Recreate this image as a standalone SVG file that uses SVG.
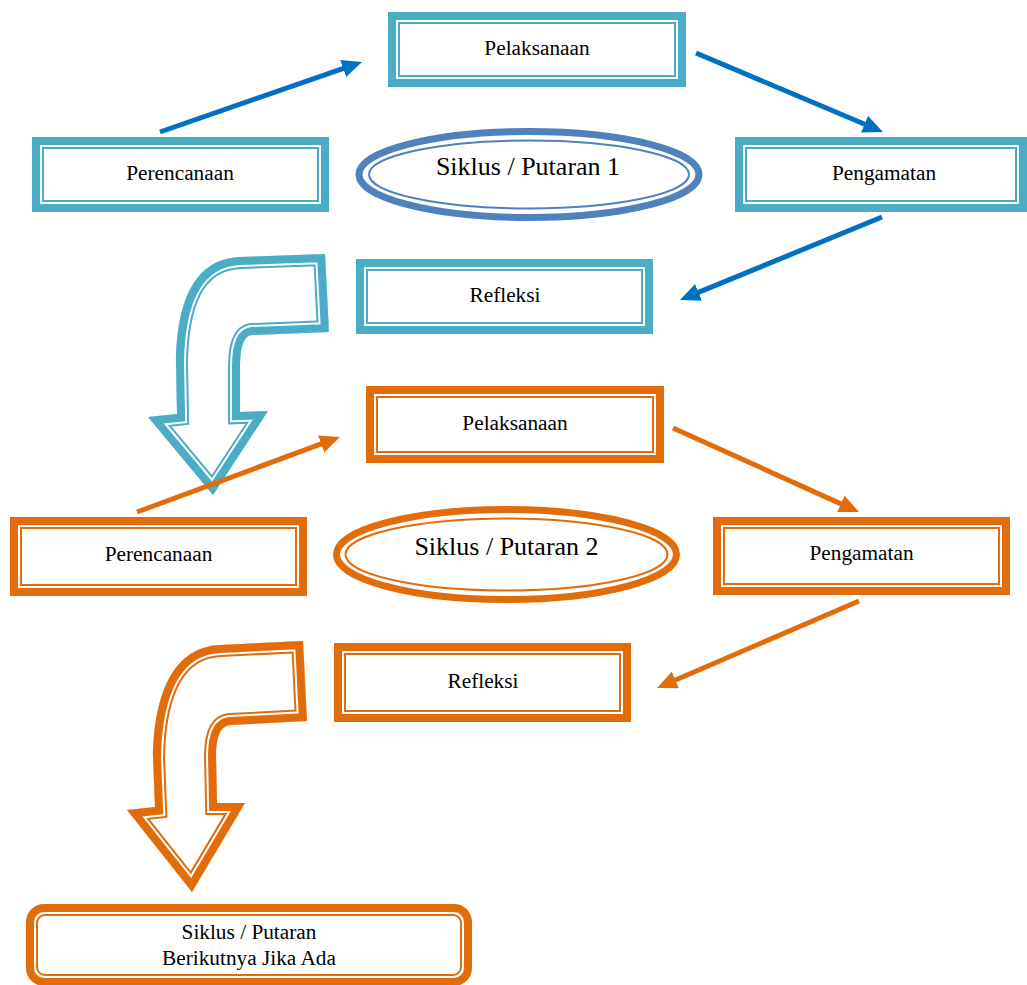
<svg xmlns="http://www.w3.org/2000/svg" xmlns:xlink="http://www.w3.org/1999/xlink" width="1027" height="985" viewBox="0 0 1027 985">
<style>
.t{font-family:"Liberation Serif","Times New Roman",serif;font-size:21.3px;fill:#000;text-anchor:middle}
.te{font-family:"Liberation Serif","Times New Roman",serif;font-size:26px;fill:#000;text-anchor:middle}
.bo{fill:#fff;stroke:#4BACC6;stroke-width:8}
.bi{fill:none;stroke:#4BACC6;stroke-width:2}
.oo{fill:#fff;stroke:#E36C0A;stroke-width:8}
.oi{fill:none;stroke:#E36C0A;stroke-width:2}
.ab{stroke:#0070C0;stroke-width:5;fill:none}
.ao{stroke:#E36C0A;stroke-width:5;fill:none}
</style>
<defs>
<marker id="hb" markerUnits="userSpaceOnUse" markerWidth="22" markerHeight="20" refX="8" refY="9" orient="auto" viewBox="0 0 22 20"><path d="M0,0 L20,9 L0,18 Z" fill="#0070C0"/></marker>
<marker id="ho" markerUnits="userSpaceOnUse" markerWidth="22" markerHeight="20" refX="8" refY="9" orient="auto" viewBox="0 0 22 20"><path d="M0,0 L20,9 L0,18 Z" fill="#E36C0A"/></marker>
<path id="cb" d="M 240,257 L 325,254 L 329,332 L 252,335 C 244,336 240,346 240,366 L 240,412 L 268,411 L 213,495 L 148,417 L 177,414 L 176,362 C 177,305 192,259 240,257 Z"/>
<path id="co" d="M 220,645 L 303,641 L 307,721 L 230,725 C 221,726 216,736 216,756 L 217,803 L 245,803 L 192,892 L 127,810 L 155,807 L 153,758 C 154,692 174,647 220,645 Z"/>
<clipPath id="ccb"><use xlink:href="#cb"/></clipPath>
<clipPath id="cco"><use xlink:href="#co"/></clipPath>
</defs>

<g id="curve-arrow-1">
<use xlink:href="#cb" fill="#fff"/>
<g clip-path="url(#ccb)" fill="none" stroke-linejoin="miter">
<use xlink:href="#cb" stroke="#4BACC6" stroke-width="24"/>
<use xlink:href="#cb" stroke="#fff" stroke-width="20"/>
<use xlink:href="#cb" stroke="#4BACC6" stroke-width="16"/>
</g>
</g>
<g id="curve-arrow-2">
<use xlink:href="#co" fill="#fff"/>
<g clip-path="url(#cco)" fill="none" stroke-linejoin="miter">
<use xlink:href="#co" stroke="#E36C0A" stroke-width="24"/>
<use xlink:href="#co" stroke="#fff" stroke-width="20"/>
<use xlink:href="#co" stroke="#E36C0A" stroke-width="16"/>
</g>
</g>

<g id="connectors">
<line class="ab" x1="160" y1="132" x2="350.7" y2="65.9" marker-end="url(#hb)"/>
<line class="ab" x1="696" y1="53" x2="871.9" y2="127.3" marker-end="url(#hb)"/>
<line class="ab" x1="882" y1="217" x2="691.1" y2="295.4" marker-end="url(#hb)"/>
<line class="ao" x1="137" y1="512" x2="328.7" y2="441.2" marker-end="url(#ho)"/>
<line class="ao" x1="673" y1="428" x2="848.1" y2="507.1" marker-end="url(#ho)"/>
<line class="ao" x1="859" y1="601" x2="668" y2="683.2" marker-end="url(#ho)"/>
</g>

<g id="pelaksanaan-1">
<rect class="bo" x="392" y="16" width="290" height="67"/>
<rect class="bi" x="399" y="23" width="276" height="53"/>
<text class="t" x="537" y="55">Pelaksanaan</text>
</g>
<g id="perencanaan-1">
<rect class="bo" x="36" y="141" width="289" height="67"/>
<rect class="bi" x="43" y="148" width="275" height="53"/>
<text class="t" x="180" y="180">Perencanaan</text>
</g>
<g id="pengamatan-1">
<rect class="bo" x="739" y="141" width="284" height="67"/>
<rect class="bi" x="746" y="148" width="270" height="53"/>
<text class="t" x="884" y="180">Pengamatan</text>
</g>
<g id="siklus-1">
<ellipse cx="529" cy="174.5" rx="170" ry="43" fill="#fff" stroke="#4F81BD" stroke-width="7"/>
<ellipse cx="529" cy="174.5" rx="160" ry="34" fill="none" stroke="#4F81BD" stroke-width="2"/>
<text class="te" x="528" y="175">Siklus / Putaran 1</text>
</g>
<g id="refleksi-1">
<rect class="bo" x="360" y="263" width="289" height="67"/>
<rect class="bi" x="367" y="270" width="275" height="53"/>
<text class="t" x="505" y="302">Refleksi</text>
</g>

<g id="pelaksanaan-2">
<rect class="oo" x="370" y="390" width="290" height="69"/>
<rect class="oi" x="377" y="397" width="276" height="55"/>
<text class="t" x="515" y="430">Pelaksanaan</text>
</g>
<g id="perencanaan-2">
<rect class="oo" x="14" y="521" width="289" height="71"/>
<rect class="oi" x="21" y="528" width="275" height="57"/>
<text class="t" x="158.5" y="561">Perencanaan</text>
</g>
<g id="pengamatan-2">
<rect class="oo" x="717" y="521" width="289" height="70"/>
<rect class="oi" x="724" y="528" width="275" height="56"/>
<text class="t" x="861.5" y="560">Pengamatan</text>
</g>
<g id="siklus-2">
<ellipse cx="506.5" cy="554.5" rx="170" ry="45" fill="#fff" stroke="#E36C0A" stroke-width="7"/>
<ellipse cx="506.5" cy="554.5" rx="161" ry="36" fill="none" stroke="#E36C0A" stroke-width="2"/>
<text class="te" x="506.5" y="555">Siklus / Putaran 2</text>
</g>
<g id="refleksi-2">
<rect class="oo" x="338" y="647" width="289" height="71"/>
<rect class="oi" x="345" y="654" width="275" height="57"/>
<text class="t" x="483" y="688">Refleksi</text>
</g>

<g id="siklus-berikutnya">
<rect x="30" y="908" width="438" height="74" rx="14" ry="14" fill="#fff" stroke="#E36C0A" stroke-width="8"/>
<rect x="37" y="915" width="424" height="60" rx="8" ry="8" fill="none" stroke="#E36C0A" stroke-width="2"/>
<text class="t" x="249" y="939">Siklus / Putaran</text>
<text class="t" x="249" y="965">Berikutnya Jika Ada</text>
</g>
</svg>
